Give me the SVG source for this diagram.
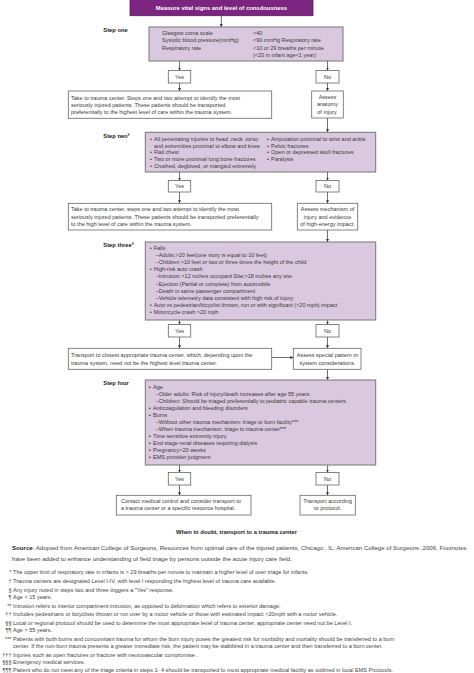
<svg xmlns="http://www.w3.org/2000/svg" width="474" height="673" viewBox="0 0 474 673">
<defs>
<style>
text{font-family:"Liberation Sans",Arial,sans-serif;fill:#3a3a3a}
.t{font-size:5.5px}
.m{text-anchor:middle}
.lbl{font-size:5.8px;font-weight:bold;fill:#222}
.title{font-size:5.9px;font-weight:bold;fill:#fff;text-anchor:middle}
.fn{font-size:5.55px;fill:#444}
.sym{font-size:5.55px;fill:#444;text-anchor:end}
.src{font-size:6.1px;fill:#444}
.pbox{fill:#d9c8de;stroke:#777;stroke-width:1}
.wbox{fill:#fff;stroke:#666;stroke-width:0.8}
.conn line{stroke:#333;stroke-width:0.7;marker-end:url(#ah)}
</style>
<marker id="ah" markerUnits="userSpaceOnUse" markerWidth="3" markerHeight="3" refX="3" refY="1.5" orient="auto">
<path d="M0,0 L3,1.5 L0,3 z" fill="#333"/>
</marker>
</defs>
<rect width="474" height="673" fill="#fff"/>

<g id="connectors" class="conn">
<line x1="221.3" y1="15.7" x2="221.3" y2="27"/>
<line x1="179.5" y1="61" x2="179.5" y2="70.5"/>
<line x1="327.5" y1="61" x2="327.5" y2="70.5"/>
<line x1="179.5" y1="83" x2="179.5" y2="91"/>
<line x1="327.5" y1="83" x2="327.5" y2="91"/>
<line x1="327.5" y1="118" x2="327.5" y2="132.3"/>
<line x1="179.5" y1="172" x2="179.5" y2="180.5"/>
<line x1="327.5" y1="172" x2="327.5" y2="180.5"/>
<line x1="179.5" y1="192" x2="179.5" y2="203.3"/>
<line x1="327.5" y1="192" x2="327.5" y2="203.3"/>
<line x1="327.5" y1="230" x2="327.5" y2="242"/>
<line x1="179.5" y1="320" x2="179.5" y2="324.5"/>
<line x1="327.5" y1="320" x2="327.5" y2="324.5"/>
<line x1="179.5" y1="337" x2="179.5" y2="348.3"/>
<line x1="327.5" y1="337" x2="327.5" y2="348.3"/>
<line x1="271.7" y1="357.5" x2="293.3" y2="357.5"/>
<line x1="327.5" y1="369.3" x2="327.5" y2="380"/>
<line x1="179.5" y1="465" x2="179.5" y2="472.5"/>
<line x1="327.5" y1="465" x2="327.5" y2="472.5"/>
<line x1="179.5" y1="485" x2="179.5" y2="495.3"/>
<line x1="327.5" y1="485" x2="327.5" y2="495.3"/>
</g>

<g id="title">
<rect x="130" y="-1" width="183" height="16.7" fill="#7b2581" stroke="#5a1a5e" stroke-width="0.8"/>
<text class="title" x="221.5" y="9.8">Measure vital signs and level of consdousness</text>
</g>

<g id="step-labels">
<text class="lbl" x="103.3" y="32">Step one</text>
<text class="lbl" x="103.3" y="137.7">Step two<tspan font-size="3.6px" dy="-2">§</tspan></text>
<text class="lbl" x="103.3" y="247">Step three<tspan font-size="3.6px" dy="-2">§</tspan></text>
<text class="lbl" x="103.3" y="384.7">Step four</text>
</g>

<g id="step-one">
<rect class="pbox" x="149" y="27" width="194" height="34"/>
<text class="t" x="162" y="34.7">Glasgow coma scale</text>
<text class="t" x="253" y="34.7">&lt;40</text>
<text class="t" x="162" y="42.2">Systolic blood pressure(mmHg)</text>
<text class="t" x="253" y="42.2">&lt;90 mmHg Respiratory rate</text>
<text class="t" x="162" y="49.7">Respiratory rate</text>
<text class="t" x="253" y="49.7">&lt;10 or 29 breaths per minute</text>
<text class="t" x="253" y="57">(&lt;20 in infant age&lt;1 year)</text>
</g>

<g id="yes-1"><rect class="wbox" x="168.3" y="70.5" width="22.4" height="12.5"/><text class="t m" x="179.5" y="79">Yes</text></g>
<g id="no-1"><rect class="wbox" x="316" y="70.5" width="23" height="12.5"/><text class="t m" x="327.5" y="79">No</text></g>

<g id="take-trauma-1">
<rect class="wbox" x="68.3" y="91" width="203.4" height="27.3"/>
<text class="t" x="71" y="99.7">Take to trauma center. Steps one and two attempt to identify the most</text>
<text class="t" x="71" y="107">seriously injured patients. These patients should be transported</text>
<text class="t" x="71" y="114.3">preferentially to the highest level of care within the trauma system.</text>
</g>

<g id="assess-anatomy">
<rect class="wbox" x="311.7" y="91" width="31.6" height="27"/>
<text class="t m" x="327.5" y="99">Assess</text>
<text class="t m" x="327.5" y="106.3">anatomy</text>
<text class="t m" x="327.5" y="114">of injury.</text>
</g>

<g id="step-two">
<rect class="pbox" x="145.3" y="132.3" width="230.4" height="39.7"/>
<text class="t" x="150" y="140.7">•</text><text class="t" x="154" y="140.7">All penetrating injuries to head ,neck ,torso</text>
<text class="t" x="154" y="147.5">and extremities proximal to elbow and knee</text>
<text class="t" x="150" y="154.3">•</text><text class="t" x="154" y="154.3">Flail chest</text>
<text class="t" x="150" y="161.1">•</text><text class="t" x="154" y="161.1">Two or more proximal long bone fractures</text>
<text class="t" x="150" y="168">•</text><text class="t" x="154" y="168">Crushed, degloved, or mangled extremely</text>
<text class="t" x="267" y="140.7">•</text><text class="t" x="271" y="140.7">Amputation proximal to wrist and ankle</text>
<text class="t" x="267" y="147.5">•</text><text class="t" x="271" y="147.5">Pelvic fractures</text>
<text class="t" x="267" y="154.3">•</text><text class="t" x="271" y="154.3">Open or depressed skull fractures</text>
<text class="t" x="267" y="161.1">•</text><text class="t" x="271" y="161.1">Paralysis</text>
</g>

<g id="yes-2"><rect class="wbox" x="168.3" y="180.5" width="22.4" height="11.5"/><text class="t m" x="179.5" y="188.2">Yes</text></g>
<g id="no-2"><rect class="wbox" x="316" y="180.5" width="23" height="11.5"/><text class="t m" x="327.5" y="188.2">No</text></g>

<g id="take-trauma-2">
<rect class="wbox" x="68.3" y="203.3" width="203.4" height="26.7"/>
<text class="t" x="71" y="211">Take to trauma center. steps one and two attempt to identify the most</text>
<text class="t" x="71" y="218.7">seriously injured patients .These patients should be transported preferentially</text>
<text class="t" x="71" y="226">to the high level of care within the trauma system.</text>
</g>

<g id="assess-mechanism">
<rect class="wbox" x="297.3" y="203.3" width="60.4" height="26.7"/>
<text class="t m" x="327.5" y="211">Assess mechanism of</text>
<text class="t m" x="327.5" y="218.7">injury and evidence</text>
<text class="t m" x="327.5" y="226">of high-energy impact.</text>
</g>

<g id="step-three">
<rect class="pbox" x="145.3" y="242" width="230.4" height="78"/>
<text class="t" x="149.7" y="249.7">•</text><text class="t" x="153.7" y="249.7">Falls</text>
<text class="t" x="155.7" y="256.9">–Adults:&gt;20 feet(one story is equal to 10 feet)</text>
<text class="t" x="155.7" y="264.1">–Children &gt;10 feet or two or three times the height of the child</text>
<text class="t" x="149.7" y="271.3">•</text><text class="t" x="153.7" y="271.3">High-risk auto crash</text>
<text class="t" x="155.7" y="278.4">–Intrusion &gt;12 inches occupant Site;&gt;18 inches any site</text>
<text class="t" x="155.7" y="285.5">–Ejection (Partial or complete) from automobile</text>
<text class="t" x="155.7" y="292.8">–Death in same passenger compartment</text>
<text class="t" x="155.7" y="300">–Vehicle telemetry data consistent with high risk of injury</text>
<text class="t" x="149.7" y="307">•</text><text class="t" x="153.7" y="307">Auto vs pedestrian/bicyclist thrown, run or with significant (&gt;20 mph) impact</text>
<text class="t" x="149.7" y="314">•</text><text class="t" x="153.7" y="314">Motorcycle crash &gt;20 mph</text>
</g>

<g id="yes-3"><rect class="wbox" x="168.3" y="324.5" width="22.4" height="12.5"/><text class="t m" x="179.5" y="333.3">Yes</text></g>
<g id="no-3"><rect class="wbox" x="316" y="324.5" width="23" height="12.5"/><text class="t m" x="327.5" y="333.3">No</text></g>

<g id="transport-closest">
<rect class="wbox" x="68.3" y="348.3" width="203.4" height="21"/>
<text class="t" x="71" y="357">Transport to closest appropriate trauma center, which, depending upon the</text>
<text class="t" x="71" y="364.7">trauma system, need not be the highest level trauma center.</text>
</g>

<g id="assess-special">
<rect class="wbox" x="293.3" y="348.3" width="67.7" height="21"/>
<text class="t m" x="327.5" y="357">Assess special pattern or</text>
<text class="t m" x="327.5" y="364.7">system considerations.</text>
</g>

<g id="step-four">
<rect class="pbox" x="145.3" y="380" width="230.4" height="85"/>
<text class="t" x="149" y="389">▪</text><text class="t" x="153" y="389">Age</text>
<text class="t" x="155.7" y="396">–Older adults: Risk of injury/death increases after age 55 years.</text>
<text class="t" x="155.7" y="403">–Children: Should be triaged preferentially to pediatric capable trauma centers.</text>
<text class="t" x="149" y="410.4">▪</text><text class="t" x="153" y="410.4">Anticoagulation and bleeding disorders</text>
<text class="t" x="149" y="417">▪</text><text class="t" x="153" y="417">Burns</text>
<text class="t" x="155.7" y="424">–Without other trauma mechanism: triage to burn facility***</text>
<text class="t" x="155.7" y="431.2">–When trauma mechanism: triage to trauma center***</text>
<text class="t" x="149" y="438">▪</text><text class="t" x="153" y="438">Time sensitive extremity  injury</text>
<text class="t" x="149" y="445.2">▪</text><text class="t" x="153" y="445.2">End stage renal diseases requiring dialysis</text>
<text class="t" x="149" y="452">▪</text><text class="t" x="153" y="452">Pregnancy&gt;20 weeks</text>
<text class="t" x="149" y="459.2">▪</text><text class="t" x="153" y="459.2">EMS provider judgment</text>
</g>

<g id="yes-4"><rect class="wbox" x="168.3" y="472.5" width="22.4" height="12.5"/><text class="t m" x="179.5" y="480.7">Yes</text></g>
<g id="no-4"><rect class="wbox" x="316" y="472.5" width="23" height="12.5"/><text class="t m" x="327.5" y="480.7">No</text></g>

<g id="contact-medical">
<rect class="wbox" x="116.3" y="495.3" width="134.7" height="19.7"/>
<text class="t" x="121" y="502.7">Contact medical control and consider transport to</text>
<text class="t" x="121" y="509.8">a trauma center or a specific resource hospital.</text>
</g>

<g id="transport-protocol">
<rect class="wbox" x="300" y="495.3" width="55.3" height="19.7"/>
<text class="t m" x="327.7" y="502.7">Transport according</text>
<text class="t m" x="327.7" y="509.8">to protocol.</text>
</g>

<g id="doubt">
<text class="lbl m" x="236.5" y="534.3" font-size="5.6px">When in doubt, transport to a trauma center</text>
</g>

<g id="notes">
<text class="src" x="12" y="550.3"><tspan font-weight="bold" fill="#222">Source</tspan>: Adopted from American College of Surgeons, Resources from optimal care of the injured patients, Chicago , IL: American College of Surgeons ;2006. Footnotes</text>
<text class="src" x="12" y="561">have been added to enhance understanding of field triage by persons outside the acute injury care field.</text>
<text class="sym" x="11.5" y="574.3">*</text><text class="fn" x="13" y="574.3">The upper limit of respiratory rate in infants is &gt; 29 breaths per minute to maintain a higher level of  over triage for infants.</text>
<text class="sym" x="11.5" y="583">†</text><text class="fn" x="13" y="583">Trauma centers are designated Level I-IV, with level I responding the highest level of trauma  care available.</text>
<text class="sym" x="11.5" y="591.5">§</text><text class="fn" x="13" y="591.5">Any injury noted in steps two and three triggers a "Yes" response.</text>
<text class="sym" x="11.5" y="599.3">¶</text><text class="fn" x="13" y="599.3">Age &lt; 15 years.</text>
<text class="sym" x="11.5" y="607.6">**</text><text class="fn" x="13" y="607.6">Intrusion refers to interior compartment intrusion, as opposed to deformation which refers to exterior damage.</text>
<text class="sym" x="11.5" y="615.7">††</text><text class="fn" x="13" y="615.7">Includes pedestrians or bicyclists thrown or run over by a motor vehicle or those with estimated impact &gt;20mph with a motor vehicle.</text>
<text class="sym" x="11.5" y="625">§§</text><text class="fn" x="13" y="625">Local or regional protocol should be used to determine the most appropriate level of trauma center, appropriate center need not be Level I.</text>
<text class="sym" x="11.5" y="632.3">¶¶</text><text class="fn" x="13" y="632.3">Age &gt; 55 years.</text>
<text class="sym" x="11.5" y="640.7">***</text><text class="fn" x="13" y="640.7">Patients with both burns and concomitant trauma for whom the burn injury poses the greatest risk for morbidity and mortality should be transferred to a burn</text>
<text class="fn" x="13" y="648.3">center. If the non-burn trauma  presents a greater immediate risk, the patient may be stabilized in a trauma center  and then transferred to a burn center.</text>
<text class="sym" x="11.5" y="656.7">†††</text><text class="fn" x="13" y="656.7">Injuries such as open fractures or fracture with neurovascular compromise .</text>
<text class="sym" x="11.5" y="664.3">§§§</text><text class="fn" x="13" y="664.3">Emergency medical services.</text>
<text class="sym" x="11.5" y="672">¶¶¶</text><text class="fn" x="13" y="672">Patient who do not meet any of the triage criteria in steps 1- 4 should be transported  to most appropriate medical facility as outlined in local EMS Protocols.</text>
</g>
</svg>
